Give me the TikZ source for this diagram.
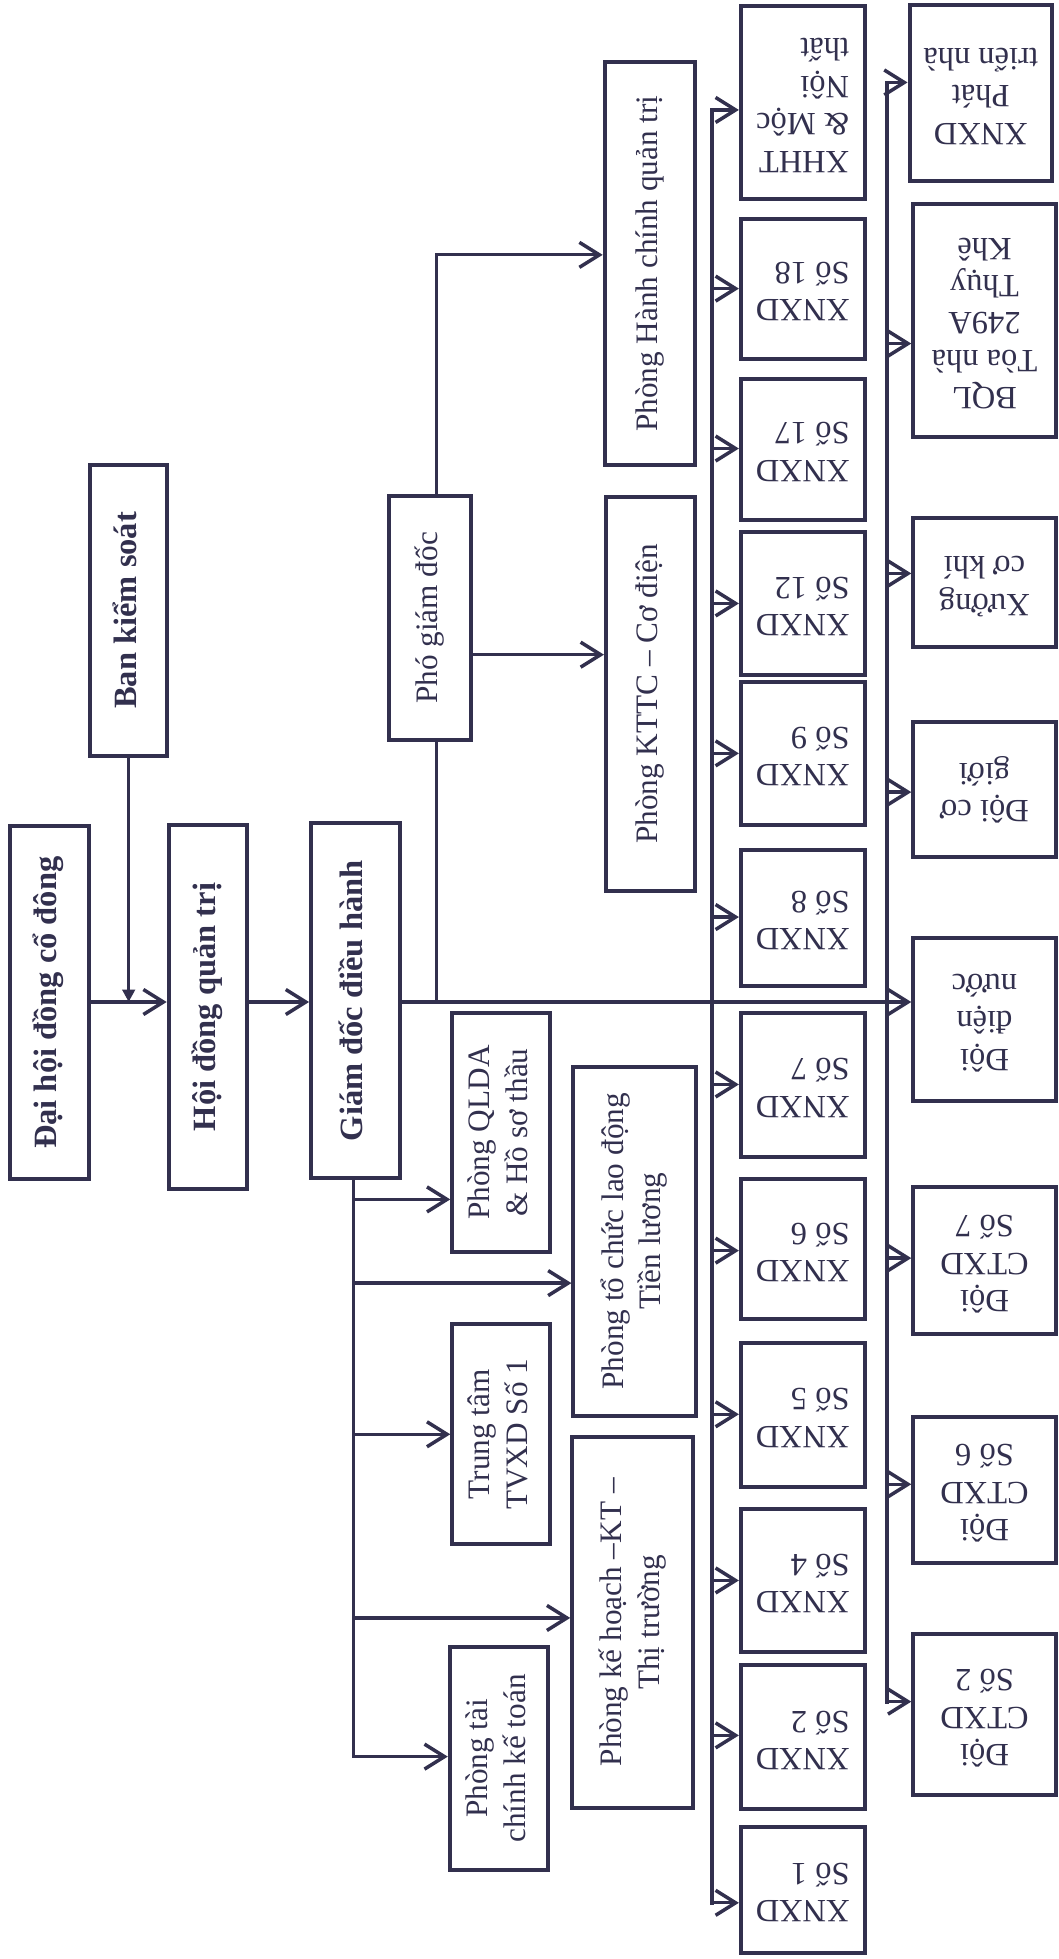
\documentclass[tikz,border=0pt]{standalone}
\usepackage{fontspec}
\setmainfont{Liberation Serif}
\usetikzlibrary{arrows.meta}
\definecolor{ink}{RGB}{50,48,78}
\newcommand\rt[1]{\rotatebox{90}{\begin{tabular}{@{}c@{}}#1\end{tabular}}}
\newcommand\ut[2]{\rotatebox{180}{\begin{tabular}{@{}#1@{}}#2\end{tabular}}}
\newcommand\bx[7]{\node[#6, minimum width={(#3-#2)*0.5pt}, minimum height={(#5-#4)*0.5pt}] (#1) at ({(#2+#3)/2},{(#4+#5)/2}) {#7};}
\newcommand\brarr[3]{\coordinate (tmp) at (#1,#2); \draw[arr] (tmp) -- (#3.west |- tmp);}
\begin{document}
\begin{tikzpicture}[x=0.5pt,y=-0.5pt,
 box/.style={draw=ink, line width=1.6pt, inner sep=0pt, text=ink, font=\fontsize{12.5}{15}\selectfont},
 bbox/.style={box, font=\bfseries\fontsize{13}{15}\selectfont},
 ubox/.style={box, font=\fontsize{13}{15}\selectfont},
 conn/.style={draw=ink, line width=1.3pt},
 arr/.style={conn, -{Straight Barb[length=8pt,width=10pt,line width=1.4pt]}},
 bus/.style={draw=ink, line width=1.5pt, line cap=rect}]
\useasboundingbox (0,0) rectangle (847,1568);
\fill[white] (0,0) rectangle (847,1568);
% main chain
\bx{dhcd}{8}{71}{661}{944}{bbox}{\rt{Đại hội đồng cổ đông}}
\bx{bks}{72}{134}{372}{605}{bbox}{\rt{Ban kiểm soát}}
\bx{hdqt}{135}{198}{660}{952}{bbox}{\rt{Hội đồng quản trị}}
\bx{gddh}{249}{320}{659}{943}{bbox}{\rt{Giám đốc điều hành}}
\bx{pgd}{311}{377}{397}{592}{box}{\rt{Phó giám đốc}}
\bx{hcqt}{484}{556}{50}{372}{box}{\rt{Phòng Hành chính quản trị}}
\bx{kttc}{485}{556}{398}{713}{box}{\rt{Phòng KTTC – Cơ điện}}
\bx{qlda}{362}{440}{811}{1002}{box}{\rt{Phòng QLDA\\\& Hồ sơ thầu}}
\bx{ttam}{362}{440}{1060}{1236}{box}{\rt{Trung tâm\\TVXD Số 1}}
\bx{tckt}{360}{439}{1318}{1497}{box}{\rt{Phòng tài\\chính kế toán}}
\bx{tcld}{459}{557}{854}{1133}{box}{\rt{Phòng tổ chức lao động\\Tiền lương}}
\bx{khkt}{458}{555}{1150}{1447}{box}{\rt{Phòng kế hoạch –KT –\\Thị trường}}
% XNXD column
\bx{xh}{593}{692}{5}{159}{ubox}{\ut{l}{XHHT\\\& Mộc\\Nội\\thất}}
\bx{x18}{593}{692}{175}{287}{ubox}{\ut{l}{XNXD\\Số 18}}
\bx{x17}{593}{692}{303}{416}{ubox}{\ut{l}{XNXD\\Số 17}}
\bx{x12}{593}{692}{426}{540}{ubox}{\ut{l}{XNXD\\Số 12}}
\bx{x9}{593}{692}{546}{660}{ubox}{\ut{l}{XNXD\\Số 9}}
\bx{x8}{593}{692}{680}{789}{ubox}{\ut{l}{XNXD\\Số 8}}
\bx{x7}{593}{692}{811}{926}{ubox}{\ut{l}{XNXD\\Số 7}}
\bx{x6}{593}{692}{944}{1056}{ubox}{\ut{l}{XNXD\\Số 6}}
\bx{x5}{593}{692}{1075}{1190}{ubox}{\ut{l}{XNXD\\Số 5}}
\bx{x4}{593}{692}{1208}{1322}{ubox}{\ut{l}{XNXD\\Số 4}}
\bx{x2}{593}{692}{1333}{1448}{ubox}{\ut{l}{XNXD\\Số 2}}
\bx{x1}{593}{692}{1462}{1563}{ubox}{\ut{l}{XNXD\\Số 1}}
% Doi column
\bx{dpt}{728}{842}{4}{145}{ubox}{\ut{c}{XNXD\\Phát\\triển nhà}}
\bx{dbql}{731}{845}{163}{350}{ubox}{\ut{c}{BQL\\Tòa nhà\\249A\\Thụy\\Khê}}
\bx{dxck}{731}{845}{415}{518}{ubox}{\ut{c}{Xưởng\\cơ khí}}
\bx{dcg}{731}{845}{578}{686}{ubox}{\ut{c}{Đội cơ\\giới}}
\bx{ddn}{731}{845}{751}{881}{ubox}{\ut{c}{Đội\\điện\\nước}}
\bx{dc7}{731}{845}{950}{1068}{ubox}{\ut{c}{Đội\\CTXD\\Số 7}}
\bx{dc6}{731}{845}{1134}{1251}{ubox}{\ut{c}{Đội\\CTXD\\Số 6}}
\bx{dc2}{731}{845}{1308}{1437}{ubox}{\ut{c}{Đội\\CTXD\\Số 2}}
% connectors
\coordinate (ym) at (0,802);
\draw[arr] (dhcd.east |- ym) -- (hdqt.west |- ym);
\draw[arr] (hdqt.east |- ym) -- (gddh.west |- ym);
\draw[conn,-{Triangle[length=5pt,width=5pt]}] (bks.south) -- (bks.south |- ym);
\draw[arr] (gddh.east |- ym) -- (ddn.west |- ym);
\coordinate (xp) at (349.6,0);
\draw[conn] (pgd.south -| xp) -- (xp |- ym);
\coordinate (yh) at (0,204);
\draw[arr] (pgd.north -| xp) |- (hcqt.west |- yh);
\coordinate (yk) at (0,524);
\draw[arr] (pgd.east |- yk) -- (kttc.west |- yk);
% trunk under GD
\coordinate (xt) at (283,0);
\coordinate (ytc) at (0,1406);
\draw[arr] (gddh.south -| xt) |- (tckt.west |- ytc);
\brarr{283}{960}{qlda}
\brarr{283}{1027}{tcld}
\brarr{283}{1148}{ttam}
\brarr{283}{1295}{khkt}
% XNXD bus
\coordinate (xbT) at (570,88);
\coordinate (xbB) at (570,1523);
\draw[bus] (xbT) -- (xbB);
\brarr{570}{88}{xh}
\brarr{570}{231}{x18}
\brarr{570}{359}{x17}
\brarr{570}{483}{x12}
\brarr{570}{603}{x9}
\brarr{570}{734}{x8}
\brarr{570}{868}{x7}
\brarr{570}{1001}{x6}
\brarr{570}{1132}{x5}
\brarr{570}{1265}{x4}
\brarr{570}{1389}{x2}
\brarr{570}{1523}{x1}
% Doi bus
\coordinate (dbT) at (710,66);
\coordinate (dbB) at (710,1362);
\draw[bus] (dbT) -- (dbB);
\brarr{710}{66}{dpt}
\brarr{710}{275}{dbql}
\brarr{710}{459}{dxck}
\brarr{710}{634}{dcg}
\brarr{710}{1007}{dc7}
\brarr{710}{1188}{dc6}
\brarr{710}{1362}{dc2}
\end{tikzpicture}
\end{document}
